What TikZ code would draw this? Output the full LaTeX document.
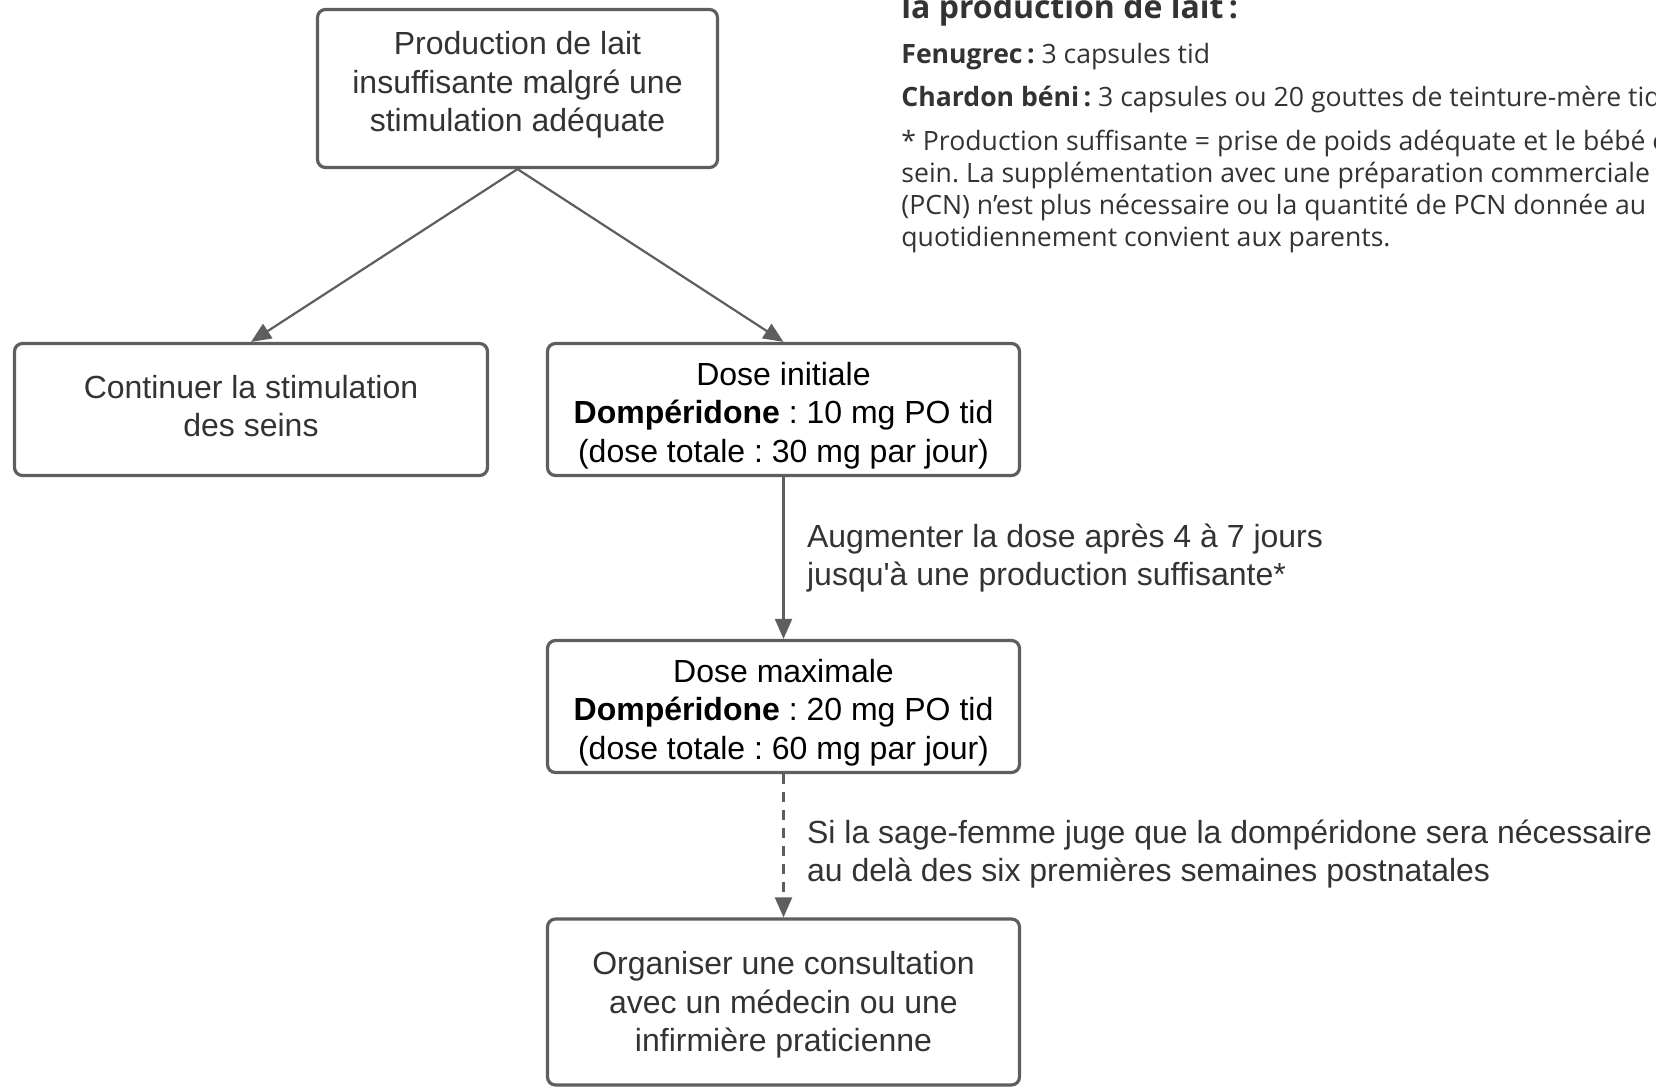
\documentclass[tikz,border=0pt]{standalone}
\usepackage{fontspec}
\setmainfont{Liberation Sans}
\newfontfamily\notefont{Open Sans}
\usepackage{xcolor}
\usetikzlibrary{arrows.meta, positioning}
\definecolor{lineColor}{RGB}{94, 94, 94}
\definecolor{textColor}{RGB}{51, 51, 51}
\frenchspacing
\tikzset{
    stepbox/.style={draw=lineColor, line width=1.6pt, rounded corners=4pt, align=center,
        text=textColor, font=\fontsize{16}{19.2}\selectfont, inner sep=0pt},
    textlift/.style={text height=#1, text depth=0pt},
    flow/.style={draw=lineColor, line width=1.1pt, -{Triangle[length=10pt, width=8.5pt]}},
    edgelabel/.style={anchor=west, align=left, text=textColor, inner sep=0pt,
        xshift=11.25pt, font=\fontsize{16}{19.2}\selectfont},
    notetext/.style={anchor=base west, align=left, inner sep=0pt, text=textColor,
        font=\notefont\fontsize{13.3}{16}\selectfont}
}

\begin{document}
\begin{tikzpicture}[x=0.5pt, y=-0.5pt]
    \clip (0,0) rectangle (1656,1088);

    % Boxes
    \node[stepbox, textlift=43.2pt, minimum width=200pt, minimum height=79pt] (start) at (517.5,88.5)
        {Production de lait\\insuffisante malgré une\\stimulation adéquate};
    \node[stepbox, textlift=27.3pt, minimum width=236.5pt, minimum height=66pt] (stim) at (251,409.5)
        {Continuer la stimulation\\des seins};
    \node[stepbox, textlift=52.8pt, text=black, minimum width=236pt, minimum height=66pt] (initdose) at (783.5,409.5)
        {Dose initiale\\\textbf{Dompéridone} : 10 mg PO tid\\(dose totale : 30 mg par jour)};
    \node[stepbox, textlift=52.8pt, text=black, minimum width=236pt, minimum height=66pt] (maxdose) at (783.5,706.5)
        {Dose maximale\\\textbf{Dompéridone} : 20 mg PO tid\\(dose totale : 60 mg par jour)};
    \node[stepbox, textlift=49.5pt, minimum width=236pt, minimum height=83pt] (consult) at (783.5,1002)
        {Organiser une consultation\\avec un médecin ou une\\infirmière praticienne};

    % Arrows
    \draw[flow] (start.south) -- (stim.north);
    \draw[flow] (start.south) -- (initdose.north);
    \draw[flow] (initdose) -- node[edgelabel]
        {Augmenter la dose après 4 à 7 jours\\jusqu\textquotesingle à une production suffisante*} (maxdose);
    \draw[flow, dash pattern=on 5pt off 4pt] (maxdose) -- node[edgelabel, yshift=-4pt]
        {Si la sage-femme juge que la dompéridone sera nécessaire\\au delà des six premières semaines postnatales} (consult);

    % Notes, top right
    \node[notetext, font=\notefont\bfseries\fontsize{16}{19}\selectfont] (notetitle) at (901,18)
        {la production de lait\,:};
    \node[notetext] (fenugrec) at (901,63) {\textbf{Fenugrec\,:} 3 capsules tid};
    \node[notetext] (chardon) at (901,106)
        {\textbf{Chardon béni\,:} 3 capsules ou 20 gouttes de teinture-mère tid};
    \node[notetext] (footnote) at (901,246)
        {* Production suffisante = prise de poids adéquate et le bébé est\\
         sein. La supplémentation avec une préparation commerciale\\
         (PCN) n’est plus nécessaire ou la quantité de PCN donnée au\\
         quotidiennement convient aux parents.};
\end{tikzpicture}
\end{document}
